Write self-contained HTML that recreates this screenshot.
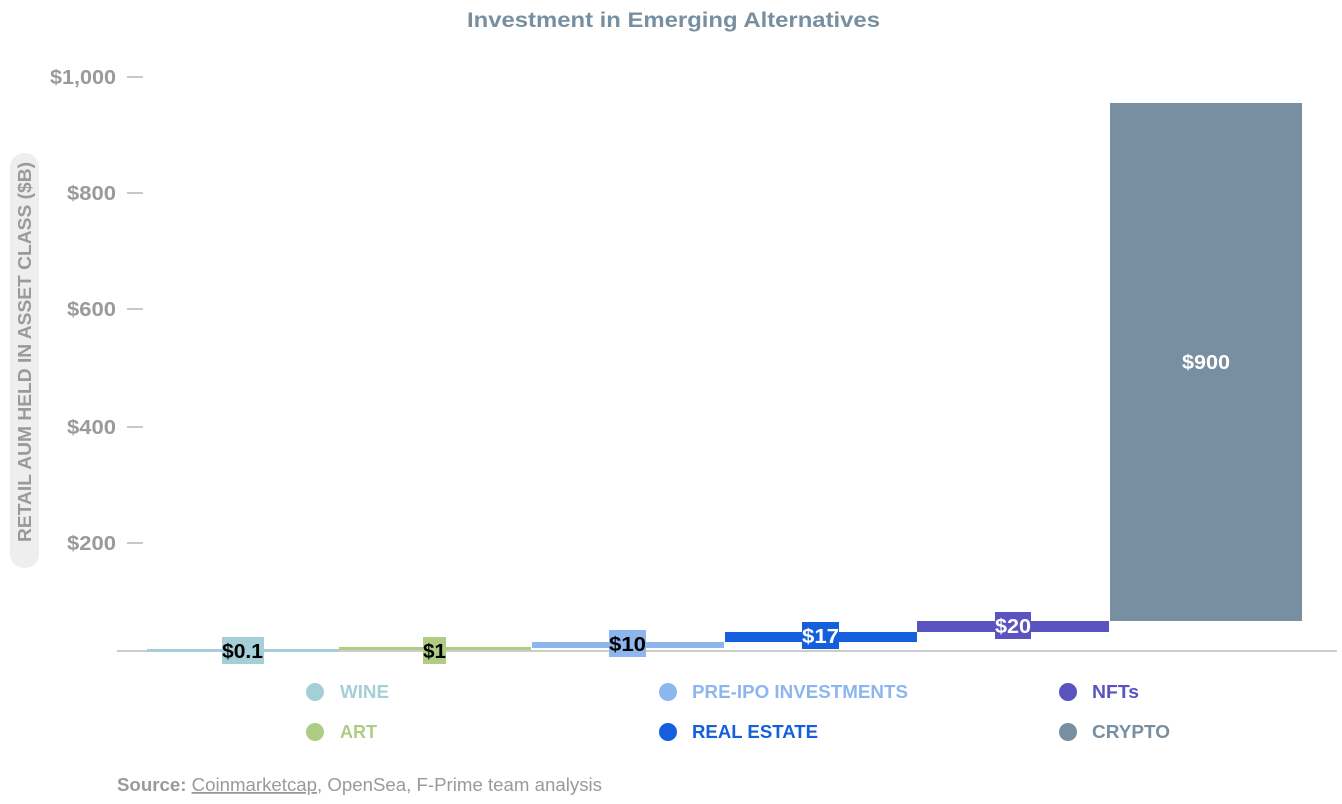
<!DOCTYPE html>
<html><head><meta charset="utf-8"><style>
body{margin:0;background:#fff;width:1342px;height:799px;overflow:hidden;font-family:"Liberation Sans",Arial,sans-serif}
</style></head><body>
<svg width="1342" height="799" xmlns="http://www.w3.org/2000/svg" font-family="Liberation Sans, Arial, sans-serif">
<text x="467" y="27" textLength="413" lengthAdjust="spacingAndGlyphs" font-size="21" font-weight="bold" fill="#778fa0">Investment in Emerging Alternatives</text>
<rect x="10" y="153" width="29" height="415" rx="14" fill="#eeeeee"/>
<text transform="translate(31,542) rotate(-90)" textLength="380" lengthAdjust="spacingAndGlyphs" font-size="18" font-weight="bold" fill="#9a9a9a">RETAIL AUM HELD IN ASSET CLASS ($B)</text>
<g font-size="20" font-weight="bold" fill="#9a9a9a">
<text x="50" y="84" textLength="66" lengthAdjust="spacingAndGlyphs">$1,000</text>
<text x="67" y="200" textLength="49" lengthAdjust="spacingAndGlyphs">$800</text>
<text x="67" y="316" textLength="49" lengthAdjust="spacingAndGlyphs">$600</text>
<text x="67" y="434" textLength="49" lengthAdjust="spacingAndGlyphs">$400</text>
<text x="67" y="550" textLength="49" lengthAdjust="spacingAndGlyphs">$200</text>
</g>
<g stroke="#c8c8c8" stroke-width="2">
<line x1="127" y1="77" x2="143" y2="77"/><line x1="127" y1="193" x2="143" y2="193"/><line x1="127" y1="309" x2="143" y2="309"/><line x1="127" y1="427" x2="143" y2="427"/><line x1="127" y1="543" x2="143" y2="543"/>
</g>
<line x1="117" y1="651" x2="1337" y2="651" stroke="#cccccc" stroke-width="2"/>
<rect x="147" y="649" width="192" height="3" fill="#a5cfd6"/>
<rect x="339" y="647" width="192" height="3" fill="#aecc83"/>
<rect x="532" y="642" width="192" height="6" fill="#8db6ee"/>
<rect x="725" y="632" width="192" height="10" fill="#135fdc"/>
<rect x="917" y="621" width="192" height="11" fill="#5b53bf"/>
<rect x="1110" y="103" width="192" height="518" fill="#778fa0"/>
<rect x="222" y="637" width="42" height="27" fill="#a5cfd6"/>
<rect x="423" y="637" width="23" height="27" fill="#aecc83"/>
<rect x="609" y="630" width="37" height="27" fill="#8db6ee"/>
<rect x="802" y="622" width="37" height="27" fill="#135fdc"/>
<rect x="995" y="612" width="36" height="27" fill="#5b53bf"/>
<g font-size="20" font-weight="bold">
<text x="222" y="658" textLength="41" lengthAdjust="spacingAndGlyphs" fill="#000">$0.1</text>
<text x="423" y="658" textLength="23" lengthAdjust="spacingAndGlyphs" fill="#000">$1</text>
<text x="609" y="651" textLength="37" lengthAdjust="spacingAndGlyphs" fill="#000">$10</text>
<text x="802" y="643" textLength="37" lengthAdjust="spacingAndGlyphs" fill="#fff">$17</text>
<text x="995" y="633" textLength="36" lengthAdjust="spacingAndGlyphs" fill="#fff">$20</text>
<text x="1182" y="369" textLength="48" lengthAdjust="spacingAndGlyphs" fill="#fff">$900</text>
</g>
<g font-size="18" font-weight="bold">
<circle cx="315" cy="692" r="9" fill="#a5cfd6"/><text x="340" y="698" textLength="49" lengthAdjust="spacingAndGlyphs" fill="#a5cfd6">WINE</text>
<circle cx="315" cy="732" r="9" fill="#aecc83"/><text x="340" y="738" textLength="37" lengthAdjust="spacingAndGlyphs" fill="#aecc83">ART</text>
<circle cx="668" cy="692" r="9" fill="#8db6ee"/><text x="692" y="698" textLength="216" lengthAdjust="spacingAndGlyphs" fill="#8db6ee">PRE-IPO INVESTMENTS</text>
<circle cx="668" cy="732" r="9" fill="#135fdc"/><text x="692" y="738" textLength="126" lengthAdjust="spacingAndGlyphs" fill="#135fdc">REAL ESTATE</text>
<circle cx="1068" cy="692" r="9" fill="#5b53bf"/><text x="1092" y="698" textLength="47" lengthAdjust="spacingAndGlyphs" fill="#5b53bf">NFTs</text>
<circle cx="1068" cy="732" r="9" fill="#778fa0"/><text x="1092" y="738" textLength="78" lengthAdjust="spacingAndGlyphs" fill="#778fa0">CRYPTO</text>
</g>
<text x="117" y="791" textLength="485" lengthAdjust="spacingAndGlyphs" font-size="18" fill="#9a9a9a"><tspan font-weight="bold">Source: </tspan><tspan text-decoration="underline">Coinmarketcap</tspan>, OpenSea, F-Prime team analysis</text>
</svg>
</body></html>
